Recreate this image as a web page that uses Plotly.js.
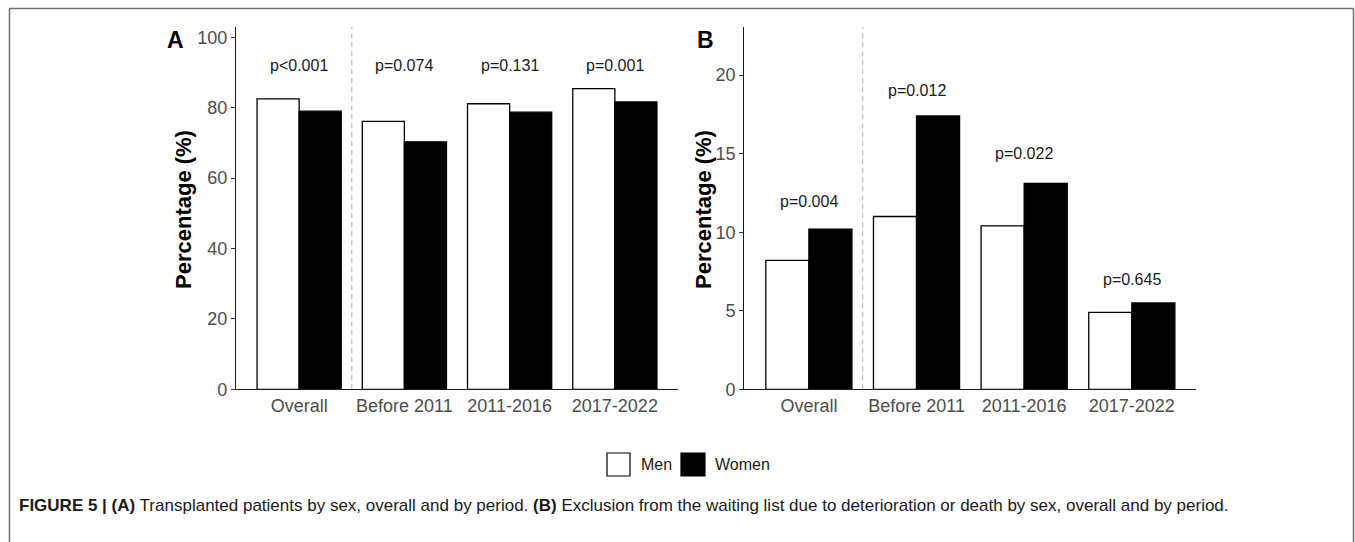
<!DOCTYPE html>
<html>
<head>
<meta charset="utf-8">
<script src="https://cdn.plot.ly/plotly-3.0.1.min.js"></script>
<style>
  html, body { margin: 0; padding: 0; background: #ffffff; }
  #fig { width: 1355px; height: 542px; }
</style>
</head>
<body>
<div id="fig"></div>
<script>
// Periods shown on both panels
const categories = ['Overall', 'Before 2011', '2011-2016', '2017-2022'];

// Panel A: transplanted patients (%)
const menA = [82.5, 76.1, 81.1, 85.4];
const womenA = [79.0, 70.3, 78.7, 81.6];
const pLabelsA = ['p<0.001', 'p=0.074', 'p=0.131', 'p=0.001'];
const pHeightsA = [92, 92, 92, 92];

// Panel B: excluded from the waiting list, deterioration or death (%)
const menB = [8.2, 11.0, 10.4, 4.9];
const womenB = [10.2, 17.4, 13.1, 5.5];
const pLabelsB = ['p=0.004', 'p=0.012', 'p=0.022', 'p=0.645'];
const pHeightsB = [11.95, 19.0, 15.0, 7.0];

const yTicksA = [0, 20, 40, 60, 80, 100];
const yTicksB = [0, 5, 10, 15, 20];

const W = 1355, H = 542;
const px = x => x / W;
const py = y => 1 - y / H;

const FONT = 'Liberation Sans, Arial, Helvetica, sans-serif';
const barLine = { color: '#000000', width: 1.3 };

function bars(x, y, name, fill, xa, ya) {
  return {
    type: 'bar', x: x, y: y, name: name,
    xaxis: xa, yaxis: ya,
    marker: { color: fill, line: barLine },
    showlegend: false, hoverinfo: 'x+y+name'
  };
}

const data = [
  bars(categories, menA, 'Men', '#ffffff', 'x', 'y'),
  bars(categories, womenA, 'Women', '#000000', 'x', 'y'),
  bars(categories, menB, 'Men', '#ffffff', 'x2', 'y2'),
  bars(categories, womenB, 'Women', '#000000', 'x2', 'y2')
];

function xAxis(domain, anchor) {
  return {
    domain: domain, anchor: anchor, type: 'category',
    categoryorder: 'array', categoryarray: categories,
    range: [-0.6, categories.length - 0.4],
    showline: true, linecolor: '#1a1a1a', linewidth: 1.1,
    ticks: '', showgrid: false, zeroline: false,
    tickfont: { family: FONT, size: 18, color: '#4d4d4d' },
    fixedrange: true
  };
}
function yAxis(domain, anchor, range, ticks) {
  return {
    domain: domain, anchor: anchor, range: range,
    tickvals: ticks, ticktext: ticks.map(String),
    showline: true, linecolor: '#1a1a1a', linewidth: 1.1,
    ticks: 'outside', ticklen: 4, tickcolor: '#333333', tickwidth: 1,
    showgrid: false, zeroline: false,
    tickfont: { family: FONT, size: 18, color: '#4d4d4d' },
    fixedrange: true
  };
}

const yDom = [py(389.3), py(27)];

const annotations = [];
function pLabels(labels, heights, xa, ya) {
  labels.forEach((t, i) => {
    annotations.push({
      xref: xa, yref: ya, x: categories[i], y: heights[i],
      text: t, showarrow: false, xanchor: 'center', yanchor: 'middle',
      font: { family: FONT, size: 16, color: '#1a1a1a' }
    });
  });
}
pLabels(pLabelsA, pHeightsA, 'x', 'y');
pLabels(pLabelsB, pHeightsB, 'x2', 'y2');

// panel letters
annotations.push({ xref: 'paper', yref: 'paper', x: px(175.5), y: py(40), text: '<b>A</b>',
  showarrow: false, xanchor: 'center', yanchor: 'middle',
  font: { family: FONT, size: 23, color: '#000000' } });
annotations.push({ xref: 'paper', yref: 'paper', x: px(705.3), y: py(40), text: '<b>B</b>',
  showarrow: false, xanchor: 'center', yanchor: 'middle',
  font: { family: FONT, size: 23, color: '#000000' } });

// y axis titles
[[183, 210], [703, 210]].forEach(([cx, cy]) => {
  annotations.push({ xref: 'paper', yref: 'paper', x: px(cx), y: py(cy),
    text: '<b>Percentage (%)</b>', textangle: -90, showarrow: false,
    xanchor: 'center', yanchor: 'middle',
    font: { family: FONT, size: 22, color: '#000000' } });
});

// legend labels
annotations.push({ xref: 'paper', yref: 'paper', x: px(639), y: py(464.5), text: 'Men',
  showarrow: false, xanchor: 'left', yanchor: 'middle',
  font: { family: FONT, size: 16, color: '#1a1a1a' } });
annotations.push({ xref: 'paper', yref: 'paper', x: px(713), y: py(464.5), text: 'Women',
  showarrow: false, xanchor: 'left', yanchor: 'middle',
  font: { family: FONT, size: 16, color: '#1a1a1a' } });

// caption
annotations.push({ xref: 'paper', yref: 'paper', x: px(17), y: py(505),
  text: '<b>FIGURE 5 | (A)</b> Transplanted patients by sex, overall and by period. <b>(B)</b> Exclusion from the waiting list due to deterioration or death by sex, overall and by period.',
  showarrow: false, xanchor: 'left', yanchor: 'middle',
  font: { family: FONT, size: 17, color: '#1a1a1a' } });

const frameLine = { color: '#6e6e6e', width: 1.5 };
const shapes = [
  // period separators
  { type: 'line', xref: 'x', yref: 'y domain', x0: 0.5, x1: 0.5, y0: 0, y1: 1,
    line: { color: '#bdbdbd', width: 1.2, dash: '5px,4px' } },
  { type: 'line', xref: 'x2', yref: 'y2 domain', x0: 0.5, x1: 0.5, y0: 0, y1: 1,
    line: { color: '#bdbdbd', width: 1.2, dash: '5px,4px' } },
  // legend keys
  { type: 'rect', xref: 'paper', yref: 'paper', x0: px(607), x1: px(630), y0: py(476), y1: py(453),
    fillcolor: '#ffffff', line: { color: '#000000', width: 1.2 } },
  { type: 'rect', xref: 'paper', yref: 'paper', x0: px(681), x1: px(705), y0: py(476), y1: py(453),
    fillcolor: '#000000', line: { color: '#000000', width: 1.2 } },
  // figure frame
  { type: 'line', xref: 'paper', yref: 'paper', x0: px(9), x1: px(1353.5), y0: py(8.5), y1: py(8.5), line: frameLine },
  { type: 'line', xref: 'paper', yref: 'paper', x0: px(9.5), x1: px(9.5), y0: py(8.5), y1: py(545), line: frameLine },
  { type: 'line', xref: 'paper', yref: 'paper', x0: px(1353.5), x1: px(1353.5), y0: py(8.5), y1: py(545), line: frameLine }
];

const layout = {
  width: W, height: H,
  margin: { l: 0, r: 0, t: 0, b: 0, pad: 0 },
  paper_bgcolor: '#ffffff', plot_bgcolor: 'rgba(0,0,0,0)',
  barmode: 'group', bargap: 0.2, bargroupgap: 0,
  showlegend: false,
  font: { family: FONT },
  xaxis: xAxis([px(236), px(678)], 'y'),
  yaxis: yAxis(yDom, 'x', [0, 102.9], yTicksA),
  xaxis2: xAxis([px(744.3), px(1196.4)], 'y2'),
  yaxis2: yAxis(yDom, 'x2', [0, 23.06], yTicksB),
  annotations: annotations,
  shapes: shapes
};

Plotly.newPlot('fig', data, layout, { displayModeBar: false, staticPlot: true });
</script>
</body>
</html>
